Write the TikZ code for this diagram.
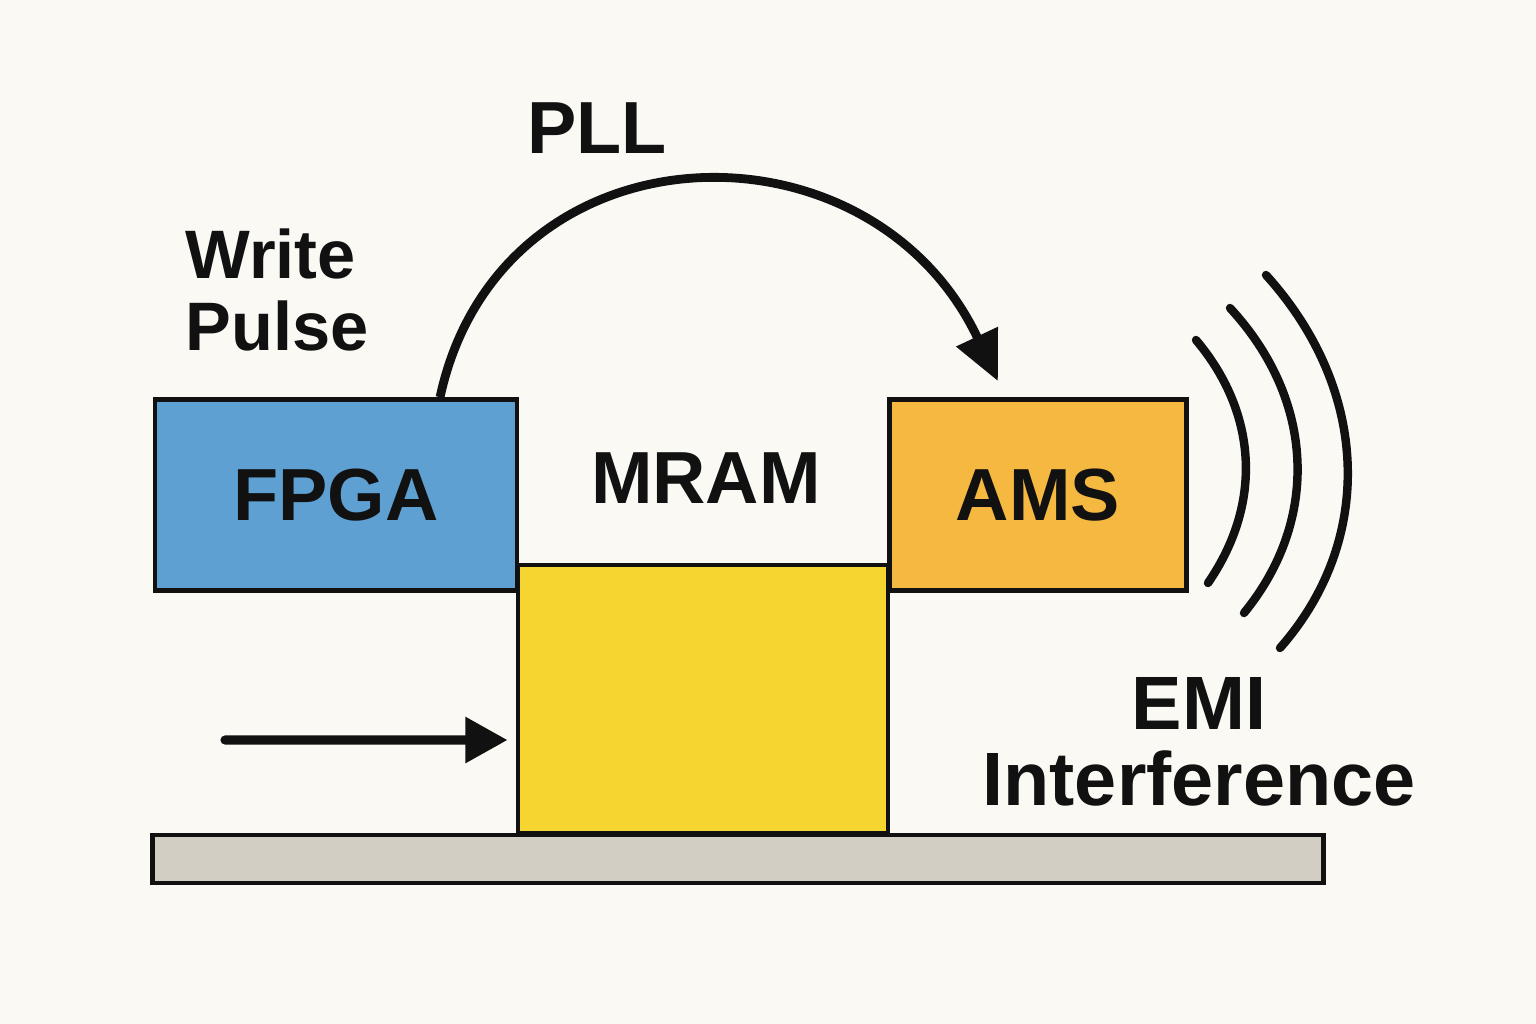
\documentclass[tikz,border=0pt]{standalone}
\usepackage{fontspec}
\setmainfont{Liberation Sans}
\usepackage{xcolor}
\usetikzlibrary{arrows.meta}

\definecolor{bgcream}{HTML}{FBF9F4}
\definecolor{fpgablue}{HTML}{5FA0D3}
\definecolor{amsorange}{HTML}{F5B841}
\definecolor{mramyellow}{HTML}{F6D530}
\definecolor{basegray}{HTML}{D2CEC4}
\definecolor{inkblack}{HTML}{111111}

\tikzset{
  block/.style={draw=inkblack, line width=1.3pt, inner sep=0pt},
  lbl/.style={text=inkblack, font=\fontsize{21}{25}\selectfont\bfseries, inner sep=0pt},
}

\begin{document}
\begin{tikzpicture}[x=0.01cm, y=-0.01cm]
  \fill[bgcream] (0,0) rectangle (1536,1024);
  \useasboundingbox (0,0) rectangle (1536,1024);
  % base plate and blocks
  \node[block, fill=basegray, minimum width=11.70cm, minimum height=0.48cm] (base) at (738,859) {};
  \node[block, fill=mramyellow, minimum width=3.70cm, minimum height=2.68cm] (mram) at (703,699) {};
  \node[block, fill=fpgablue, minimum width=3.62cm, minimum height=1.91cm, lbl] (fpga) at (336,495) {FPGA};
  \node[block, fill=amsorange, minimum width=2.97cm, minimum height=1.91cm, lbl] (ams) at (1038,495) {AMS};
  % labels
  \node[lbl] (mramlbl) at (706,478) {MRAM};
  \node[lbl] (plllbl) at (597,128) {PLL};
  \node[lbl, font=\fontsize{19.5}{20.5}\selectfont\bfseries, align=left, anchor=west] (wplbl) at (185,290) {Write\\Pulse};
  \node[lbl, font=\fontsize{21.5}{21.5}\selectfont\bfseries, align=center] (emilbl) at (1199,742) {EMI\\Interference};
  % PLL arc
  \draw[inkblack, line width=2.5pt, -{Triangle[length=14pt, width=12.5pt]}]
    ([xshift=1.04cm]fpga.north) .. controls (500,120) and (870,110) .. ([xshift=-0.40cm, yshift=0.16cm]ams.north);
  % write pulse arrow
  \coordinate (wpsrc) at (225,740);
  \draw[inkblack, line width=2.6pt, line cap=round, -{Triangle[length=12pt, width=12.5pt]}]
    (wpsrc) -- ([xshift=-0.08cm, yshift=-0.41cm]mram.west);
  % EMI waves
  \draw[inkblack, line width=2.4pt, line cap=round] (1196,340) .. controls (1255,410) and (1265,500) .. (1208,583);
  \draw[inkblack, line width=2.4pt, line cap=round] (1230,308) .. controls (1315,400) and (1320,520) .. (1244,613);
  \draw[inkblack, line width=2.4pt, line cap=round] (1266,275) .. controls (1370,390) and (1375,540) .. (1280,648);
\end{tikzpicture}
\end{document}
